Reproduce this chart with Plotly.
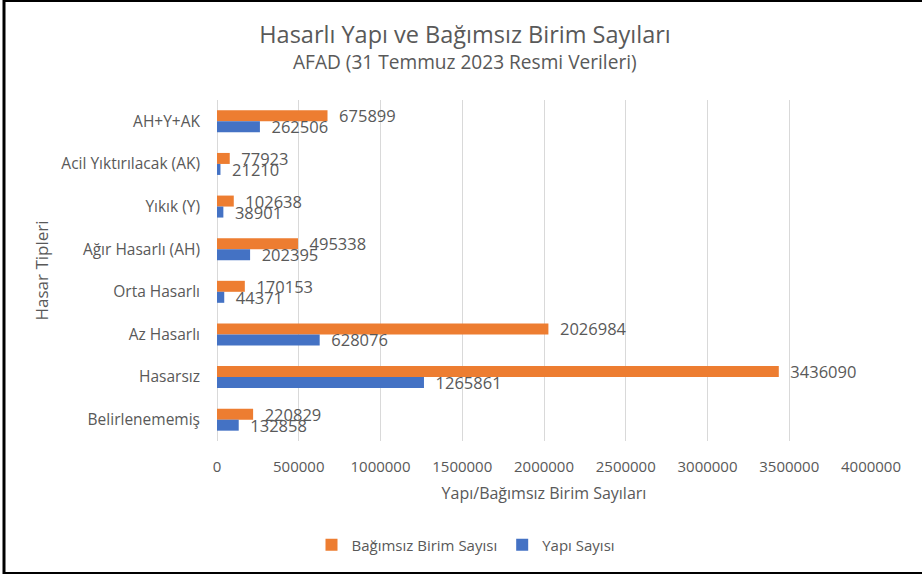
import plotly.graph_objects as go

categories = ["AH+Y+AK", "Acil Yıktırılacak (AK)", "Yıkık (Y)", "Ağır Hasarlı (AH)",
              "Orta Hasarlı", "Az Hasarlı", "Hasarsız", "Belirlenememiş"]
bagimsiz_birim = [675899, 77923, 102638, 495338, 170153, 2026984, 3436090, 220829]
yapi_sayisi = [262506, 21210, 38901, 202395, 44371, 628076, 1265861, 132858]
x_ticks = [0, 500000, 1000000, 1500000, 2000000, 2500000, 3000000, 3500000, 4000000]

TXT = "#595959"
FONT = "Open Sans"
W, H = 922, 577
L, R, T, B = 217, 51, 100, 136
PW, PH = W - L - R, H - T - B

def px_x(px):
    return (px - L) / PW

def px_y(py):
    return (H - B - py) / PH

fig = go.Figure()
fig.add_trace(go.Bar(
    y=categories, x=bagimsiz_birim, orientation="h", name="Bağımsız Birim Sayısı",
    marker=dict(color="#ED7D31", line=dict(width=0)),
    texttemplate="\u00a0\u00a0%{x:d}", textposition="outside", constraintext="none",
    textfont=dict(family=FONT, size=16.5, color=TXT), cliponaxis=False,
))
fig.add_trace(go.Bar(
    y=categories, x=yapi_sayisi, orientation="h", name="Yapı Sayısı",
    marker=dict(color="#4472C4", line=dict(width=0)),
    texttemplate="\u00a0\u00a0%{x:d}", textposition="outside", constraintext="none",
    textfont=dict(family=FONT, size=16.5, color=TXT), cliponaxis=False,
))

fig.update_layout(
    width=W, height=H,
    margin=dict(l=L, r=R, t=T, b=B, autoexpand=False),
    paper_bgcolor="white", plot_bgcolor="white",
    barmode="group", bargap=0.484, bargroupgap=0,
    font=dict(family=FONT, color=TXT, size=15),
    title=dict(text="Hasarlı Yapı ve Bağımsız Birim Sayıları",
               font=dict(family=FONT, size=23.5, color=TXT),
               x=465 / W, xref="container", xanchor="center",
               y=1 - 35 / H, yref="container", yanchor="middle"),
    showlegend=True,
    legend=dict(orientation="h", x=466 / W, xref="container", xanchor="center",
                y=1 - 545 / H, yref="container", yanchor="middle",
                font=dict(family=FONT, size=15, color=TXT),
                itemwidth=30, traceorder="normal", bgcolor="rgba(0,0,0,0)"),
    xaxis=dict(range=[0, 4000000], tickvals=x_ticks, ticktext=[str(v) for v in x_ticks],
               showgrid=True, gridcolor="#D9D9D9", gridwidth=1,
               zeroline=True, zerolinecolor="#D9D9D9", zerolinewidth=1,
               showline=False, ticks="", ticklabelstandoff=15,
               tickfont=dict(family=FONT, size=15, color=TXT),
               title=dict(text="Yapı/Bağımsız Birim Sayıları",
                          font=dict(family=FONT, size=16, color=TXT), standoff=12)),
    yaxis=dict(autorange="reversed", showgrid=False, zeroline=False, showline=False,
               ticks="", ticklabelstandoff=16,
               tickfont=dict(family=FONT, size=15.5, color=TXT),
               title=dict(text="Hasar Tipleri",
                          font=dict(family=FONT, size=17, color=TXT), standoff=8)),
    annotations=[dict(text="AFAD (31 Temmuz 2023 Resmi Verileri)", showarrow=False,
                      xref="paper", yref="paper", x=px_x(465), y=px_y(62),
                      xanchor="center", yanchor="middle",
                      font=dict(family=FONT, size=19.1, color=TXT))],
    shapes=[
        dict(type="line", xref="paper", yref="paper", x0=px_x(4), x1=px_x(4),
             y0=px_y(0), y1=px_y(574), line=dict(color="black", width=3)),
        dict(type="line", xref="paper", yref="paper", x0=px_x(3), x1=px_x(922),
             y0=px_y(1), y1=px_y(1), line=dict(color="black", width=2)),
        dict(type="line", xref="paper", yref="paper", x0=px_x(3), x1=px_x(922),
             y0=px_y(573), y1=px_y(573), line=dict(color="black", width=2)),
    ],
)

fig.write_html("out.html", config={"displayModeBar": False},
               post_script="document.body.style.margin='0';document.body.style.overflow='hidden';")
